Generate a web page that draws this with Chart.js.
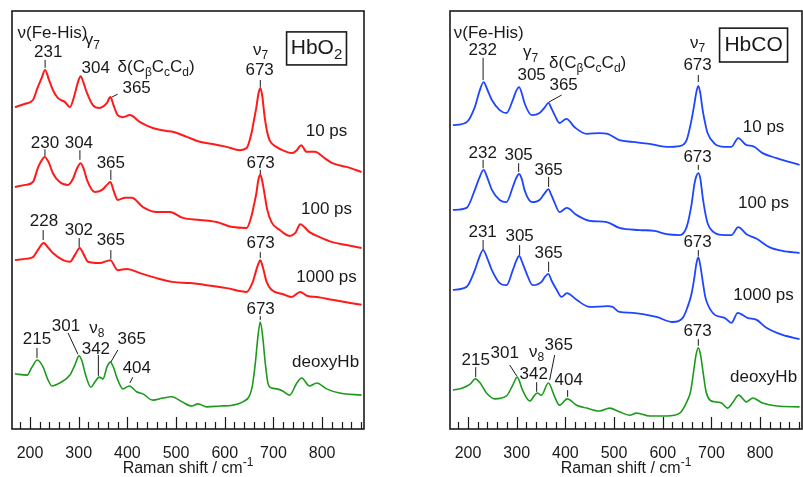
<!DOCTYPE html>
<html>
<head>
<meta charset="utf-8">
<script src="https://cdn.jsdelivr.net/npm/chart.js@4.4.1/dist/chart.umd.min.js"></script>
<style>
  html, body { margin: 0; padding: 0; background: #fff; }
  #wrap { position: relative; width: 803px; height: 477px; }
  .panel { position: absolute; top: 0; height: 477px; }
  #left { left: 0; width: 400px; }
  #right { left: 400px; width: 403px; }
</style>
</head>
<body>
<div id="wrap">
  <div class="panel" id="left"><canvas id="chartO2"></canvas></div>
  <div class="panel" id="right"><canvas id="chartCO"></canvas></div>
</div>
<script>
// Raman shift (cm-1) and intensity (arb. units, offset stacked)

// --- HbO2 panel ---
const o2_10_x = [169, 190, 206, 216, 224, 231, 239, 247, 257, 272, 282, 291, 298, 304, 310, 317, 329, 343, 358, 365, 372, 380, 391, 405, 426, 452, 481, 493, 522, 549, 575, 604, 631, 645, 655, 660, 665, 669, 673, 677, 682, 687, 692, 706, 727, 739, 748, 757, 768, 785, 805, 821, 850, 881];
const o2_10_y = [77.0, 77.8, 78.7, 81.8, 84.0, 85.9, 83.5, 81.1, 79.2, 78.2, 77.0, 79.7, 82.8, 84.4, 82.8, 80.4, 77.5, 76.8, 78.0, 79.4, 77.3, 75.1, 74.6, 75.1, 73.4, 72.0, 71.3, 71.1, 69.9, 68.7, 68.2, 67.5, 66.7, 67.2, 70.8, 73.9, 77.0, 80.1, 81.6, 79.7, 74.6, 71.1, 69.1, 67.5, 66.3, 66.0, 66.7, 67.9, 66.3, 66.3, 64.8, 63.6, 62.7, 61.5];

const o2_100_x = [169, 190, 206, 216, 223, 230, 238, 247, 261, 278, 288, 296, 304, 311, 317, 333, 348, 358, 365, 372, 380, 395, 409, 432, 460, 487, 514, 549, 583, 616, 645, 655, 660, 665, 669, 673, 677, 682, 687, 696, 713, 733, 745, 755, 774, 795, 821, 850, 881];
const o2_100_y = [57.9, 58.4, 59.1, 62.4, 64.1, 65.1, 63.9, 61.2, 59.1, 58.4, 59.8, 62.2, 63.6, 62.0, 59.6, 56.7, 57.2, 58.4, 59.1, 56.9, 54.8, 55.3, 55.3, 53.1, 51.9, 51.9, 50.5, 50.0, 49.5, 48.3, 48.1, 51.0, 53.6, 56.5, 59.6, 60.8, 59.3, 56.0, 52.6, 49.5, 47.6, 46.2, 46.9, 49.0, 47.1, 45.9, 44.7, 44.0, 43.3];

const o2_1000_x = [169, 190, 206, 216, 228, 238, 247, 268, 282, 292, 302, 311, 319, 343, 365, 380, 399, 426, 460, 493, 528, 563, 604, 645, 657, 663, 668, 673, 678, 686, 696, 719, 737, 755, 770, 789, 821, 881];
const o2_1000_y = [40.4, 40.7, 41.1, 42.8, 44.5, 43.3, 42.1, 40.4, 40.0, 41.6, 43.3, 41.6, 40.0, 39.7, 40.4, 38.0, 38.3, 37.3, 36.1, 35.2, 34.9, 34.4, 33.7, 32.8, 35.0, 37.3, 39.2, 40.4, 38.8, 35.2, 33.3, 32.3, 31.6, 32.8, 31.8, 31.6, 30.9, 29.7];

const o2_deoxy_x = [169, 194, 204, 215, 227, 236, 245, 261, 282, 292, 301, 308, 313, 325, 333, 342, 350, 358, 365, 372, 378, 391, 404, 419, 432, 452, 473, 491, 512, 532, 545, 563, 590, 616, 637, 651, 657, 663, 668, 673, 678, 683, 689, 696, 707, 719, 733, 748, 758, 774, 789, 809, 836, 881];
const o2_deoxy_y = [13.2, 12.9, 14.8, 16.5, 14.8, 12.0, 10.3, 11.0, 12.9, 15.3, 17.5, 15.8, 13.4, 10.0, 11.2, 12.4, 12.0, 14.8, 16.0, 14.6, 12.4, 9.6, 10.3, 8.9, 8.4, 6.9, 7.4, 7.7, 6.5, 5.5, 6.0, 5.3, 5.5, 5.7, 6.5, 8.0, 10.5, 16.0, 22.0, 25.6, 22.0, 16.0, 10.8, 9.8, 9.6, 9.1, 8.1, 11.0, 12.2, 10.3, 11.0, 9.6, 8.6, 8.1];

// --- HbCO panel ---
const co_10_x = [169, 197, 214, 223, 232, 240, 249, 265, 279, 292, 299, 305, 311, 316, 331, 347, 358, 365, 371, 378, 388, 402, 419, 444, 470, 487, 511, 538, 573, 608, 635, 649, 659, 665, 669, 673, 677, 682, 687, 692, 707, 727, 741, 755, 772, 785, 805, 834, 881];
const co_10_y = [72.7, 73.4, 77.0, 80.6, 83.0, 81.1, 78.7, 76.3, 75.6, 78.7, 80.9, 81.8, 80.1, 78.0, 75.1, 75.6, 77.0, 78.0, 76.8, 75.1, 73.2, 74.2, 72.2, 70.6, 70.8, 70.6, 69.1, 68.7, 68.2, 67.5, 67.7, 69.1, 73.9, 77.8, 80.6, 82.1, 80.4, 76.3, 73.2, 70.8, 68.2, 67.5, 67.5, 69.6, 67.9, 67.7, 66.0, 64.8, 63.2];

const co_100_x = [169, 197, 214, 223, 232, 240, 249, 265, 279, 292, 298, 305, 311, 316, 331, 347, 358, 365, 371, 378, 388, 403, 423, 450, 485, 511, 552, 583, 608, 635, 649, 659, 665, 669, 673, 677, 682, 687, 692, 707, 727, 741, 755, 772, 793, 819, 846, 881];
const co_100_y = [52.4, 52.9, 57.2, 60.0, 62.0, 60.0, 57.2, 54.8, 54.3, 57.9, 59.8, 61.0, 59.6, 57.2, 54.3, 54.8, 56.5, 57.4, 56.0, 54.1, 51.9, 52.9, 51.2, 49.8, 49.5, 48.1, 47.6, 47.4, 46.6, 46.4, 48.3, 53.6, 58.6, 60.5, 61.2, 60.0, 55.5, 51.9, 49.3, 46.9, 46.4, 46.4, 48.3, 46.6, 45.5, 43.5, 42.6, 42.1];

const co_1000_x = [169, 197, 214, 222, 231, 240, 249, 265, 279, 292, 299, 305, 312, 320, 333, 351, 358, 365, 372, 382, 392, 403, 423, 450, 487, 497, 511, 538, 587, 620, 641, 651, 659, 665, 669, 673, 677, 682, 687, 692, 707, 727, 741, 754, 774, 793, 813, 846, 881];
const co_1000_y = [33.3, 34.0, 38.0, 40.7, 42.8, 40.7, 38.0, 34.9, 34.4, 38.0, 40.2, 41.4, 39.7, 37.3, 34.4, 35.2, 36.4, 37.1, 35.4, 33.3, 31.6, 32.5, 30.9, 29.2, 29.4, 29.2, 28.0, 27.8, 26.8, 25.6, 26.6, 29.2, 32.3, 36.3, 39.5, 41.1, 39.2, 35.4, 31.8, 29.9, 27.3, 26.6, 25.4, 27.8, 26.6, 26.1, 24.2, 22.5, 21.5];

const co_deoxy_x = [169, 189, 205, 215, 225, 238, 255, 279, 292, 301, 312, 327, 337, 342, 351, 365, 378, 388, 404, 423, 444, 470, 491, 511, 532, 546, 573, 608, 635, 651, 657, 663, 668, 673, 678, 683, 689, 697, 707, 721, 733, 743, 756, 772, 785, 805, 834, 881];
const co_deoxy_y = [9.3, 9.8, 10.8, 12.0, 11.0, 8.6, 7.2, 7.9, 10.5, 12.4, 9.3, 6.7, 8.1, 8.6, 8.1, 11.0, 7.7, 5.7, 7.2, 5.7, 5.0, 4.3, 5.0, 4.1, 3.3, 3.8, 3.1, 3.1, 3.8, 6.9, 8.9, 13.4, 17.5, 19.4, 17.5, 13.4, 8.9, 6.9, 6.5, 6.2, 5.0, 6.2, 8.1, 6.5, 7.4, 6.2, 5.5, 5.3];

const xTickLabels = [200, 300, 400, 500, 600, 700, 800];

const RED = '#ff1a1a';
const BLUE = '#1f45ff';
const GREEN = '#1c9a1c';
const INK = '#1a1a1a';
const FONT = '"Liberation Sans", Arial, sans-serif';

// peak labels: [text, shift, intensity]  ( _x = subscript )
const o2Labels = [
  ['ν(Fe-His)', 246, 94.7], ['231', 237.5, 90.2], ['γ_7', 328, 93.1], ['304', 335, 86.4],
  ['δ(C_βC_cC_d)', 459, 86.6], ['365', 419, 81.6], ['ν_7', 673.7, 90.7], ['673', 671.6, 85.9],
  ['10 ps', 809, 71.1],
  ['230', 230.7, 68.4], ['304', 300.4, 68.4], ['365', 366, 63.6], ['673', 673.7, 63.6], ['100 ps', 809, 52.6],
  ['228', 228.6, 49.8], ['302', 300.4, 47.6], ['365', 366, 45.2], ['673', 673.7, 44.5], ['1000 ps', 809, 36.4],
  ['215', 214.3, 21.5], ['301', 273.8, 24.6], ['ν_8', 337.3, 24.2], ['342', 335.3, 19.1],
  ['365', 409, 21.5], ['404', 419.4, 14.6], ['673', 673.7, 28.7], ['deoxyHb', 807, 16.0]
];
const o2Leaders = [
  [231, 88.3, 231, 86.4], [368, 79.4, 380, 80.1], [673, 83.5, 673, 81.8],
  [230.7, 66.9, 230.7, 65.3], [302.5, 66.7, 302.5, 64.4], [366, 62.0, 366, 59.6], [673, 62.0, 673, 61.0],
  [227, 47.6, 227, 45.2], [301, 45.7, 301, 43.5], [366, 42.8, 366, 40.7], [673, 42.3, 673, 40.9],
  [214.3, 19.4, 214.3, 17.0], [278, 23.0, 298.4, 17.9], [340.4, 17.7, 340.4, 12.7],
  [380.4, 18.9, 366, 16.0], [411.2, 12.4, 405, 11.0], [673, 27.0, 673, 26.1]
];
const coLabels = [
  ['ν(Fe-His)', 242.5, 94.7], ['232', 230.1, 90.7], ['γ_7', 328.7, 90.0], ['305', 330.7, 84.7],
  ['δ(C_βC_cC_d)', 445.7, 87.6], ['365', 396.4, 82.3], ['ν_7', 671.5, 92.3], ['673', 671.5, 87.1],
  ['10 ps', 807, 72.2],
  ['232', 230.1, 66.0], ['305', 304, 65.5], ['365', 365.6, 62.0], ['673', 671.5, 65.1], ['100 ps', 807, 54.1],
  ['231', 230, 47.1], ['305', 306, 46.2], ['365', 365.6, 42.1], ['673', 671.5, 44.7], ['1000 ps', 807, 32.1],
  ['215', 215.8, 16.5], ['301', 275.3, 18.2], ['ν_8', 341, 18.4], ['342', 334.9, 13.2],
  ['365', 386.2, 20.1], ['404', 406.7, 11.7], ['673', 671.5, 23.4], ['deoxyHb', 807, 12.4]
];
const coLeaders = [
  [231, 88.8, 231, 83.5], [392.3, 79.9, 366, 78.2], [673, 84.7, 673, 83.0],
  [231, 64.4, 231, 62.4], [304, 63.6, 304, 61.5], [365.6, 60.3, 365.6, 57.9], [673, 63.2, 673, 62.0],
  [231, 45.2, 231, 42.8], [306, 44.0, 306, 41.6], [365.6, 40.0, 365.6, 37.6], [673, 42.8, 673, 41.4],
  [215.8, 14.8, 215.8, 12.4], [285.6, 15.3, 300, 12.7], [341, 11.2, 341, 8.9],
  [378, 17.7, 367.6, 11.7], [404.6, 9.3, 404.6, 7.7], [673, 21.5, 673, 19.9]
];

function pts(xs, ys) {
  return xs.map((x, i) => ({ x: x, y: ys[i] }));
}

// text with _x subscripts and ^{..} superscripts, centred on (x, y)
function richText(ctx, str, x, y, size) {
  const parts = [];
  let i = 0;
  while (i < str.length) {
    const c = str[i];
    if (c === '_') { parts.push({ t: str[i + 1], s: 1 }); i += 2; }
    else if (c === '^') { const j = str.indexOf('}', i); parts.push({ t: str.slice(i + 2, j), s: -1 }); i = j + 1; }
    else {
      const last = parts[parts.length - 1];
      if (last && last.s === 0) last.t += c; else parts.push({ t: c, s: 0 });
      i++;
    }
  }
  const small = Math.round(size * 0.72);
  let w = 0;
  parts.forEach(p => {
    ctx.font = (p.s ? small : size) + 'px ' + FONT;
    p.w = ctx.measureText(p.t).width;
    w += p.w;
  });
  let cx = x - w / 2;
  ctx.textAlign = 'left';
  ctx.textBaseline = 'middle';
  parts.forEach(p => {
    ctx.font = (p.s ? small : size) + 'px ' + FONT;
    const dy = p.s === 1 ? size * 0.32 : (p.s === -1 ? -size * 0.42 : 0);
    ctx.fillText(p.t, cx, y + dy);
    cx += p.w;
  });
}

const ramanMarks = {
  id: 'ramanMarks',
  afterDraw(chart, args, opts) {
    const ctx = chart.ctx;
    const xs = chart.scales.x, ys = chart.scales.y;
    const a = chart.chartArea;
    ctx.save();
    ctx.strokeStyle = INK;
    ctx.fillStyle = INK;

    // frame
    ctx.lineWidth = 1.6;
    ctx.strokeRect(a.left, a.top, a.right - a.left, a.bottom - a.top);

    // inward ticks, major every 100, minor every 20
    ctx.lineWidth = 1.2;
    for (let v = Math.ceil(xs.min / 20) * 20; v <= xs.max; v += 20) {
      const px = Math.round(xs.getPixelForValue(v)) + 0.5;
      const len = v % 100 === 0 ? 12 : 7;
      ctx.beginPath();
      ctx.moveTo(px, a.bottom);
      ctx.lineTo(px, a.bottom - len);
      ctx.stroke();
    }

    // leader lines
    ctx.lineWidth = 1;
    opts.leaders.forEach(l => {
      ctx.beginPath();
      ctx.moveTo(xs.getPixelForValue(l[0]), ys.getPixelForValue(l[1]));
      ctx.lineTo(xs.getPixelForValue(l[2]), ys.getPixelForValue(l[3]));
      ctx.stroke();
    });

    // labels
    opts.labels.forEach(l => {
      richText(ctx, l[0], xs.getPixelForValue(l[1]), ys.getPixelForValue(l[2]), 17);
    });

    // sample box
    const b = opts.box;
    const bx1 = xs.getPixelForValue(b.x1), bx2 = xs.getPixelForValue(b.x2);
    const by1 = ys.getPixelForValue(b.y1), by2 = ys.getPixelForValue(b.y2);
    ctx.lineWidth = 1.6;
    ctx.strokeRect(bx1, by1, bx2 - bx1, by2 - by1);
    richText(ctx, b.text, (bx1 + bx2) / 2, (by1 + by2) / 2, 21);

    // axis title
    richText(ctx, 'Raman shift / cm^{-1}', (a.left + a.right) / 2, a.bottom + 40, 16);
    ctx.restore();
  }
};

function makeChart(id, series, labels, leaders, box, pad) {
  return new Chart(document.getElementById(id), {
    type: 'line',
    data: {
      datasets: series.map(s => ({
        data: s.data,
        borderColor: s.color,
        borderWidth: s.width,
        pointRadius: 0,
        fill: false,
        cubicInterpolationMode: 'monotone'
      }))
    },
    options: {
      responsive: true,
      maintainAspectRatio: false,
      animation: false,
      layout: { padding: pad },
      plugins: {
        legend: { display: false },
        tooltip: { enabled: false },
        ramanMarks: { labels: labels, leaders: leaders, box: box }
      },
      scales: {
        x: {
          type: 'linear',
          min: 163,
          max: 886,
          grid: { display: false },
          border: { display: false },
          afterFit: scale => { scale.height = 48; },
          afterBuildTicks: scale => { scale.ticks = xTickLabels.map(v => ({ value: v })); },
          ticks: {
            color: INK,
            font: { family: FONT, size: 16 },
            padding: 7,
            maxRotation: 0,
            autoSkip: false
          }
        },
        y: { display: false, min: 0, max: 100 }
      }
    },
    plugins: [ramanMarks]
  });
}

makeChart('chartO2', [
  { data: pts(o2_10_x, o2_10_y), color: RED, width: 2 },
  { data: pts(o2_100_x, o2_100_y), color: RED, width: 2 },
  { data: pts(o2_1000_x, o2_1000_y), color: RED, width: 2 },
  { data: pts(o2_deoxy_x, o2_deoxy_y), color: GREEN, width: 1.6 }
], o2Labels, o2Leaders,
  { x1: 727, x2: 850, y1: 95.0, y2: 87.1, text: 'HbO_2' },
  { left: 12, right: 36, top: 11, bottom: 0 });

makeChart('chartCO', [
  { data: pts(co_10_x, co_10_y), color: BLUE, width: 1.8 },
  { data: pts(co_100_x, co_100_y), color: BLUE, width: 1.8 },
  { data: pts(co_1000_x, co_1000_y), color: BLUE, width: 1.8 },
  { data: pts(co_deoxy_x, co_deoxy_y), color: GREEN, width: 1.6 }
], coLabels, coLeaders,
  { x1: 716.7, x2: 856.3, y1: 95.9, y2: 87.8, text: 'HbCO' },
  { left: 50, right: 1, top: 11, bottom: 0 });
</script>
</body>
</html>
